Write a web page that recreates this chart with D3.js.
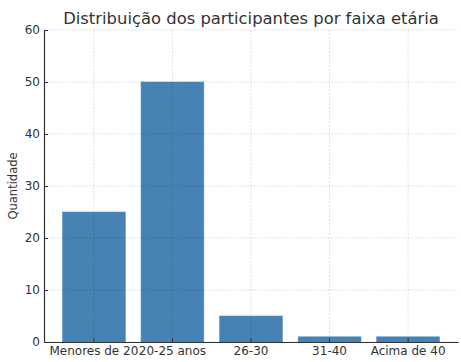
<!doctype html>
<html lang="pt">
  <head>
    <meta charset="UTF-8" />
    <title>Distribuição dos participantes por faixa etária</title>
    <script src="https://unpkg.com/d3@7.9.0/dist/d3.min.js"></script>
    <style>
      body {
        margin: 0;
        background: #fff;
        font-family: 'DejaVu Sans', sans-serif;
      }
      .title {
        font-size: 16.4px;
        fill: #333;
        text-anchor: middle;
      }
      .axis text {
        font-family: 'DejaVu Sans', sans-serif;
        font-size: 12px;
        fill: #333;
      }
      .axis path,
      .axis line {
        stroke: #333;
      }
      .grid line {
        stroke: rgba(0, 0, 0, 0.17);
        stroke-dasharray: 2, 1.5;
        stroke-width: 0.7;
      }
      .axis-label {
        font-size: 11.5px;
        fill: #333;
        text-anchor: middle;
      }
    </style>
  </head>
  <body>
    <svg width="461" height="362"></svg>
    <script>
      // dados
      const categories = ['Menores de 20', '20-25 anos', '26-30', '31-40', 'Acima de 40'];
      const counts = [25, 50, 5, 1, 1];
      const yTicks = [0, 10, 20, 30, 40, 50, 60];

      const svg = d3.select('svg');
      const margin = { top: 30, right: 3, bottom: 20, left: 44 };
      const width = 461, height = 362;
      const innerW = width - margin.left - margin.right;
      const innerH = height - margin.top - margin.bottom;

      const g = svg.append('g')
        .attr('transform', `translate(${margin.left},${margin.top})`);

      const x = d3.scaleBand()
        .domain(categories)
        .range([0, innerW])
        .paddingInner(0.2)
        .paddingOuter(0.235);

      const y = d3.scaleLinear().domain([0, 60]).range([innerH, 0]);

      // barras
      g.append('g')
        .selectAll('rect')
        .data(categories)
        .join('rect')
        .attr('x', d => x(d))
        .attr('y', (d, i) => y(counts[i]))
        .attr('width', x.bandwidth())
        .attr('height', (d, i) => innerH - y(counts[i]))
        .attr('fill', '#4682b4')
        .attr('stroke', '#5b93c2')
        .attr('stroke-width', 0.6);

      // grade (por cima das barras, semitransparente)
      g.append('g').attr('class', 'grid')
        .selectAll('line.h')
        .data(yTicks)
        .join('line')
        .attr('x1', 0).attr('x2', innerW)
        .attr('y1', d => y(d)).attr('y2', d => y(d));

      g.append('g').attr('class', 'grid')
        .selectAll('line.v')
        .data(categories)
        .join('line')
        .attr('x1', d => x(d) + x.bandwidth() / 2)
        .attr('x2', d => x(d) + x.bandwidth() / 2)
        .attr('y1', 0).attr('y2', innerH);

      // eixos
      const xAxis = g.append('g')
        .attr('class', 'axis')
        .attr('transform', `translate(0,${innerH})`)
        .call(d3.axisBottom(x).tickSizeInner(-4).tickSizeOuter(0).tickPadding(4));
      xAxis.select('.domain').attr('stroke-width', 1.2);

      const yAxis = g.append('g')
        .attr('class', 'axis')
        .call(d3.axisLeft(y).tickValues(yTicks).tickSizeInner(-4).tickSizeOuter(0).tickPadding(4));
      yAxis.select('.domain').attr('stroke-width', 1.2);

      svg.append('text')
        .attr('class', 'title')
        .attr('x', margin.left + innerW / 2)
        .attr('y', 24)
        .text('Distribuição dos participantes por faixa etária');

      svg.append('text')
        .attr('class', 'axis-label')
        .attr('transform', `translate(17,${margin.top + innerH / 2}) rotate(-90)`)
        .text('Quantidade');
    </script>
  </body>
</html>
